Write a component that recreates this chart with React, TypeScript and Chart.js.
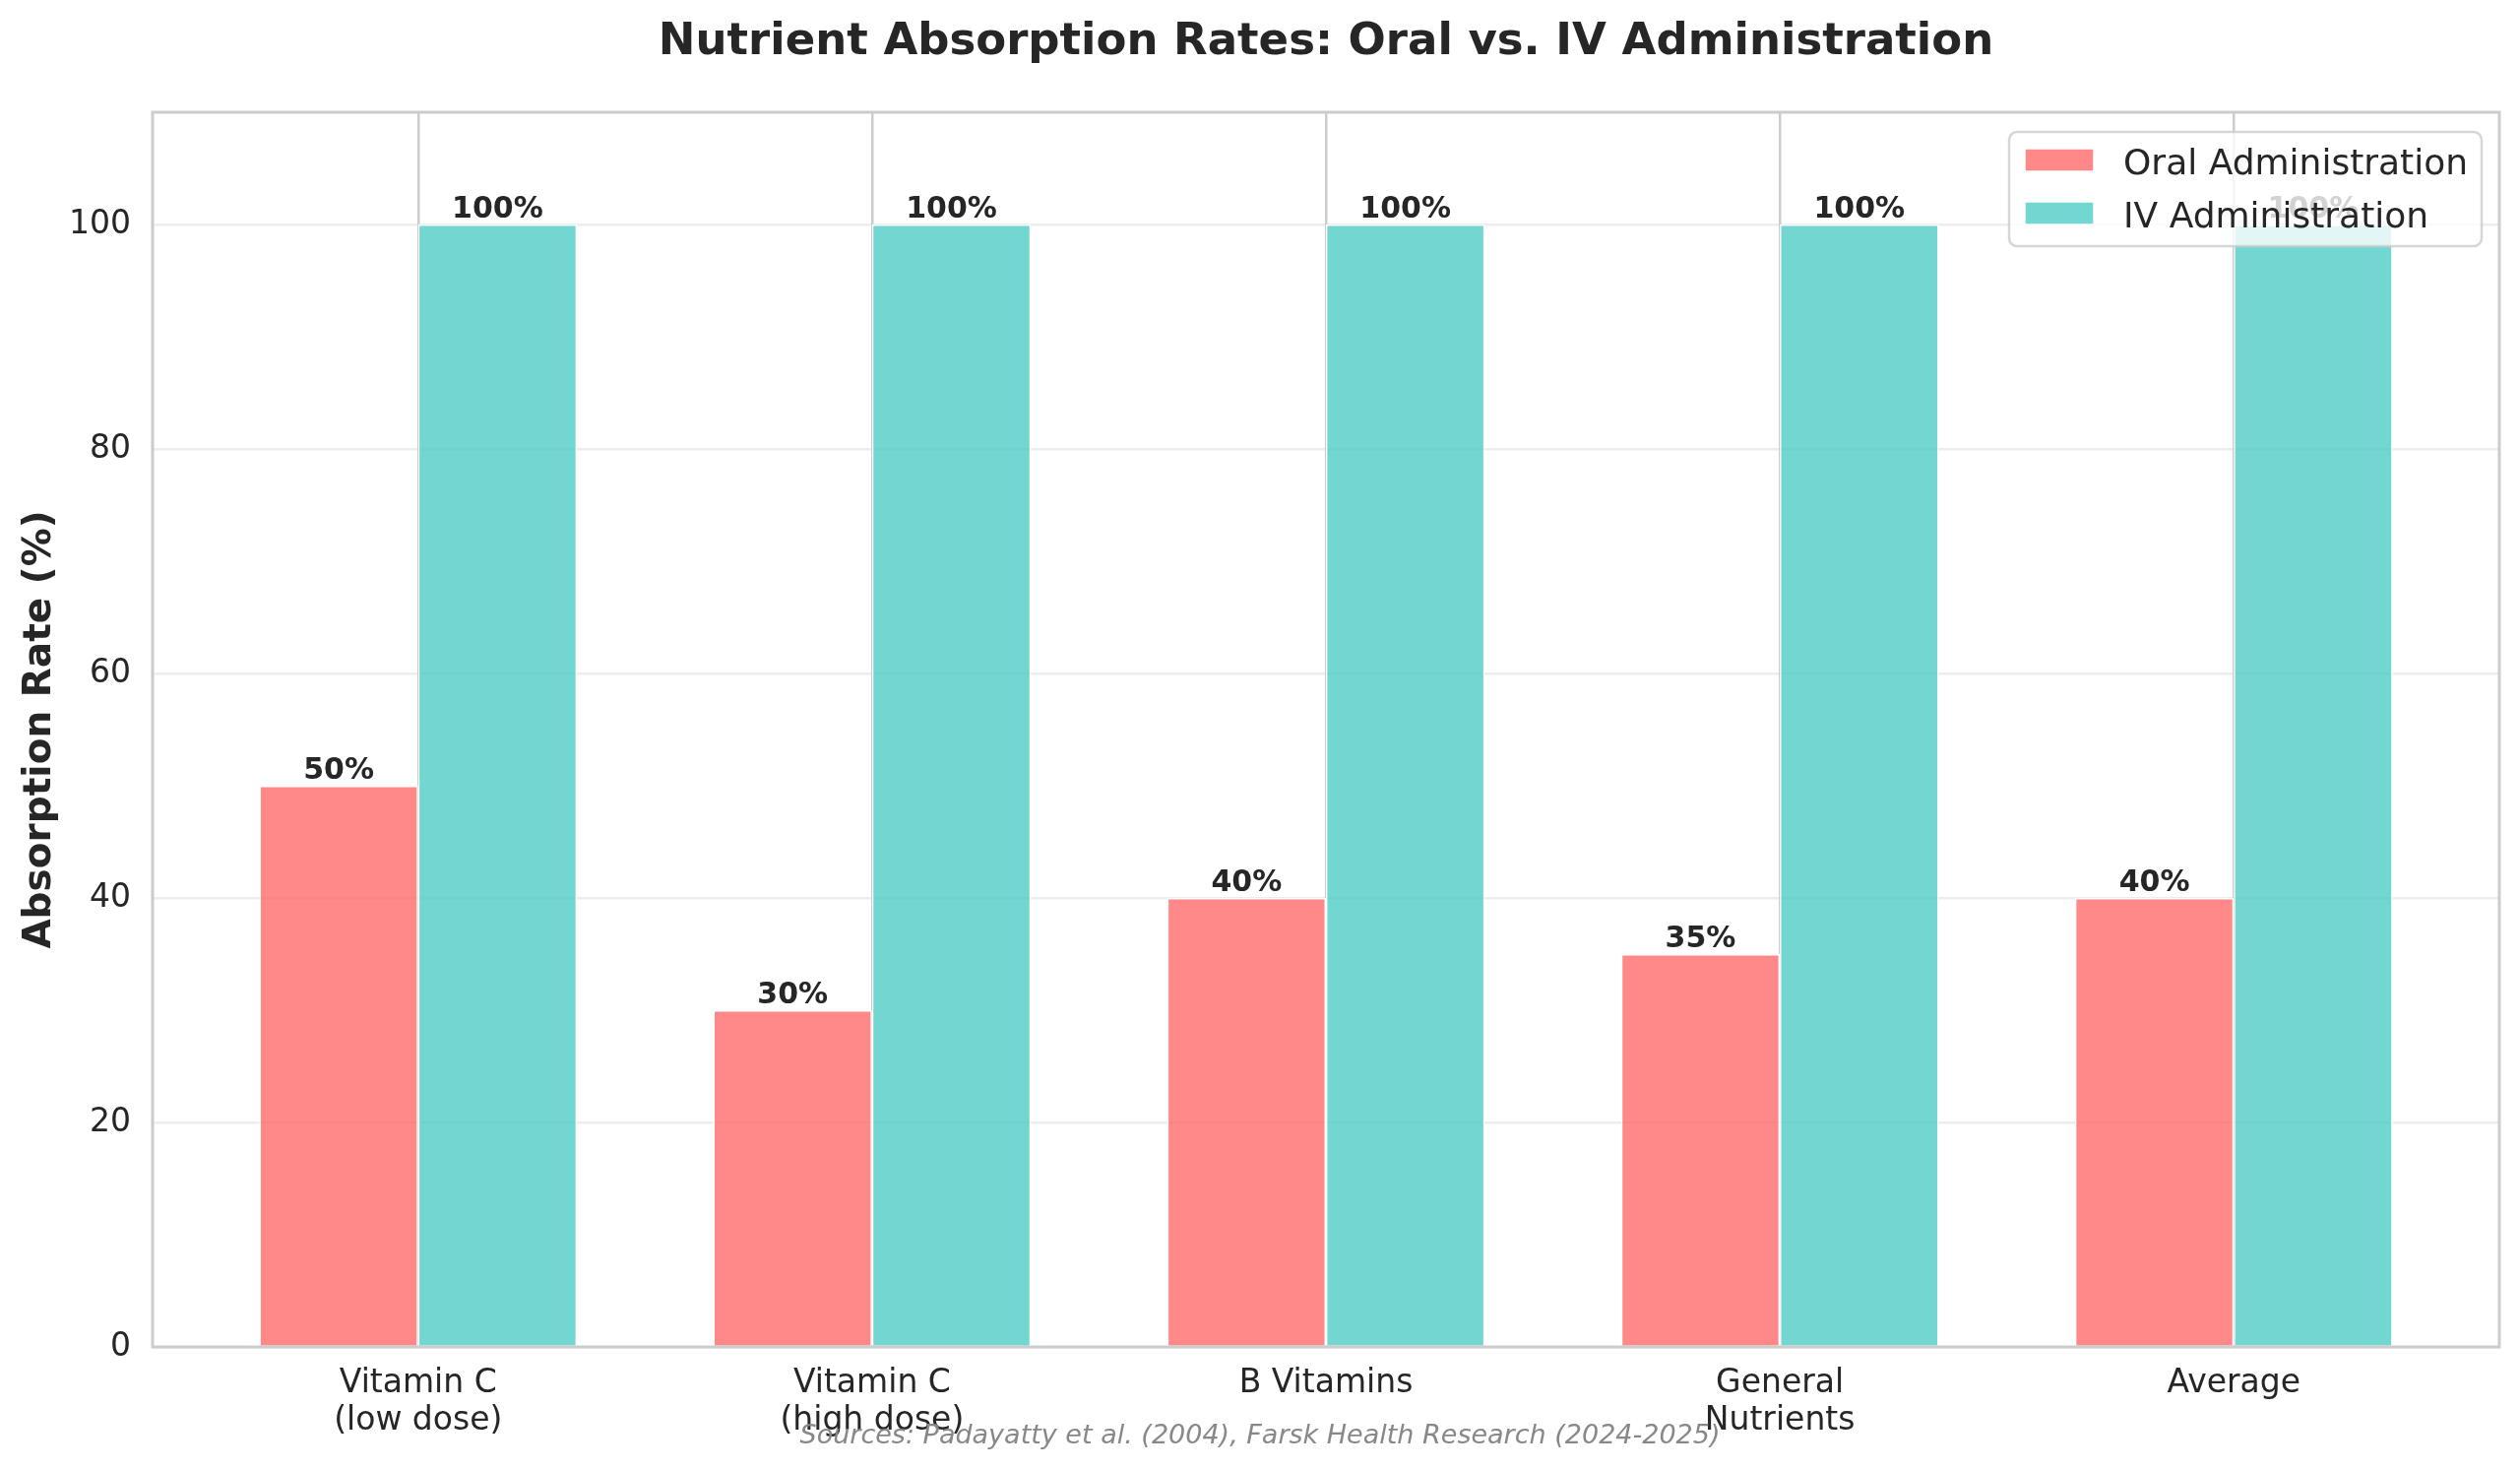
import { useEffect, useRef } from "react"
import { Chart, ChartConfiguration, Plugin, registerables } from "chart.js"

Chart.register(...registerables)

const categories = [
  ["Vitamin C", "(low dose)"],
  ["Vitamin C", "(high dose)"],
  ["B Vitamins"],
  ["General", "Nutrients"],
  ["Average"],
]
const oralRates = [50, 30, 40, 35, 40]
const ivRates = [100, 100, 100, 100, 100]
const yTicks = [0, 20, 40, 60, 80, 100]

const FONT = "'DejaVu Sans', sans-serif"
const TEXT = "#262626"
const ORAL = "rgba(255, 107, 107, 0.8)"
const IV = "rgba(78, 205, 196, 0.8)"

// frame, value labels, legend, title and footnote drawn straight onto the canvas
const decorations: Plugin = {
  id: "decorations",
  afterDatasetsDraw(chart) {
    const { ctx, chartArea } = chart
    ctx.save()

    // spines
    ctx.strokeStyle = "#cccccc"
    ctx.lineWidth = 3
    ctx.strokeRect(chartArea.left, chartArea.top, chartArea.right - chartArea.left, chartArea.bottom - chartArea.top)

    // value labels
    ctx.fillStyle = TEXT
    ctx.font = `bold 30px ${FONT}`
    ctx.textAlign = "center"
    ctx.textBaseline = "alphabetic"
    const series = [oralRates, ivRates]
    series.forEach((vals, i) => {
      chart.getDatasetMeta(i).data.forEach((bar: any, j) => {
        ctx.fillText(`${vals[j]}%`, bar.x, bar.y - 7)
      })
    })

    // legend box
    const lx = 2041, ly = 134, lw = 480, lh = 116
    ctx.beginPath()
    ctx.roundRect(lx, ly, lw, lh, 8)
    ctx.fillStyle = "rgba(255, 255, 255, 0.8)"
    ctx.fill()
    ctx.strokeStyle = "rgba(204, 204, 204, 0.8)"
    ctx.lineWidth = 2.5
    ctx.stroke()

    const entries = [
      { label: "Oral Administration", color: ORAL },
      { label: "IV Administration", color: IV },
    ]
    ctx.font = `36px ${FONT}`
    ctx.textAlign = "left"
    entries.forEach((e, i) => {
      const py = 151 + i * 54
      ctx.fillStyle = e.color
      ctx.fillRect(2057, py, 70, 23)
      ctx.strokeStyle = "#ffffff"
      ctx.lineWidth = 1.5
      ctx.strokeRect(2057, py, 70, 23)
      ctx.fillStyle = TEXT
      ctx.fillText(e.label, 2157, 177 + i * 54)
    })

    ctx.restore()
  },
  afterDraw(chart) {
    const { ctx, chartArea } = chart
    ctx.save()
    ctx.fillStyle = TEXT
    ctx.font = `bold 45px ${FONT}`
    ctx.textAlign = "center"
    ctx.textBaseline = "alphabetic"
    ctx.fillText("Nutrient Absorption Rates: Oral vs. IV Administration", (chartArea.left + chartArea.right) / 2, 55)

    ctx.fillStyle = "#888888"
    ctx.font = `italic 27px ${FONT}`
    ctx.fillText("Sources: Padayatty et al. (2004), Farsk Health Research (2024-2025)", 1280, 1466)
    ctx.restore()
  },
}

export default function App() {
  const chartRef = useRef<HTMLCanvasElement>(null)
  const chartInstanceRef = useRef<Chart | null>(null)

  useEffect(() => {
    document.body.style.margin = "0"
    if (!chartRef.current) return
    if (chartInstanceRef.current) chartInstanceRef.current.destroy()

    const config: ChartConfiguration = {
      type: "bar",
      data: {
        datasets: [
          {
            label: "Oral Administration",
            data: oralRates.map((v, i) => ({ x: i, y: v })),
            backgroundColor: ORAL,
            borderColor: "#ffffff",
            borderWidth: 1.5,
          },
          {
            label: "IV Administration",
            data: ivRates.map((v, i) => ({ x: i, y: v })),
            backgroundColor: IV,
            borderColor: "#ffffff",
            borderWidth: 1.5,
          },
        ] as any,
      },
      options: {
        responsive: false,
        animation: false,
        devicePixelRatio: 1,
        categoryPercentage: 0.7,
        barPercentage: 1,
        layout: { padding: { top: 114, right: 21, left: 0, bottom: 0 } },
        plugins: {
          legend: { display: false },
          title: { display: false },
          tooltip: { enabled: false },
        },
        scales: {
          x: {
            type: "linear",
            min: -0.585,
            max: 4.585,
            offset: false,
            afterBuildTicks: (scale) => {
              scale.ticks = categories.map((_, i) => ({ value: i }))
            },
            afterFit: (scale) => {
              scale.height = 125
            },
            grid: {
              offset: false,
              color: "#cccccc",
              lineWidth: 2.5,
              drawTicks: false,
            },
            border: { display: false },
            ticks: {
              autoSkip: false,
              maxRotation: 0,
              minRotation: 0,
              padding: 18,
              color: TEXT,
              font: { family: FONT, size: 33, lineHeight: 1.15 },
              callback: (value) => categories[Number(value)] ?? "",
            },
          },
          y: {
            min: 0,
            max: 110,
            afterBuildTicks: (scale) => {
              scale.ticks = yTicks.map((v) => ({ value: v }))
            },
            afterFit: (scale) => {
              scale.width = 155
            },
            grid: {
              color: "rgba(204, 204, 204, 0.35)",
              lineWidth: 2.5,
              drawTicks: false,
            },
            border: { display: false },
            ticks: {
              padding: 22,
              color: TEXT,
              font: { family: FONT, size: 33 },
            },
            title: {
              display: true,
              text: "Absorption Rate (%)",
              color: TEXT,
              font: { family: FONT, size: 39, weight: "bold" },
              padding: { top: 17, bottom: 0 },
            },
          },
        },
      },
      plugins: [decorations],
    }

    chartInstanceRef.current = new Chart(chartRef.current, config)

    return () => {
      if (chartInstanceRef.current) {
        chartInstanceRef.current.destroy()
        chartInstanceRef.current = null
      }
    }
  }, [])

  return (
    <div style={{ width: 2560, height: 1493, background: "#ffffff" }}>
      <canvas ref={chartRef} width={2560} height={1493} style={{ display: "block" }} />
    </div>
  )
}
